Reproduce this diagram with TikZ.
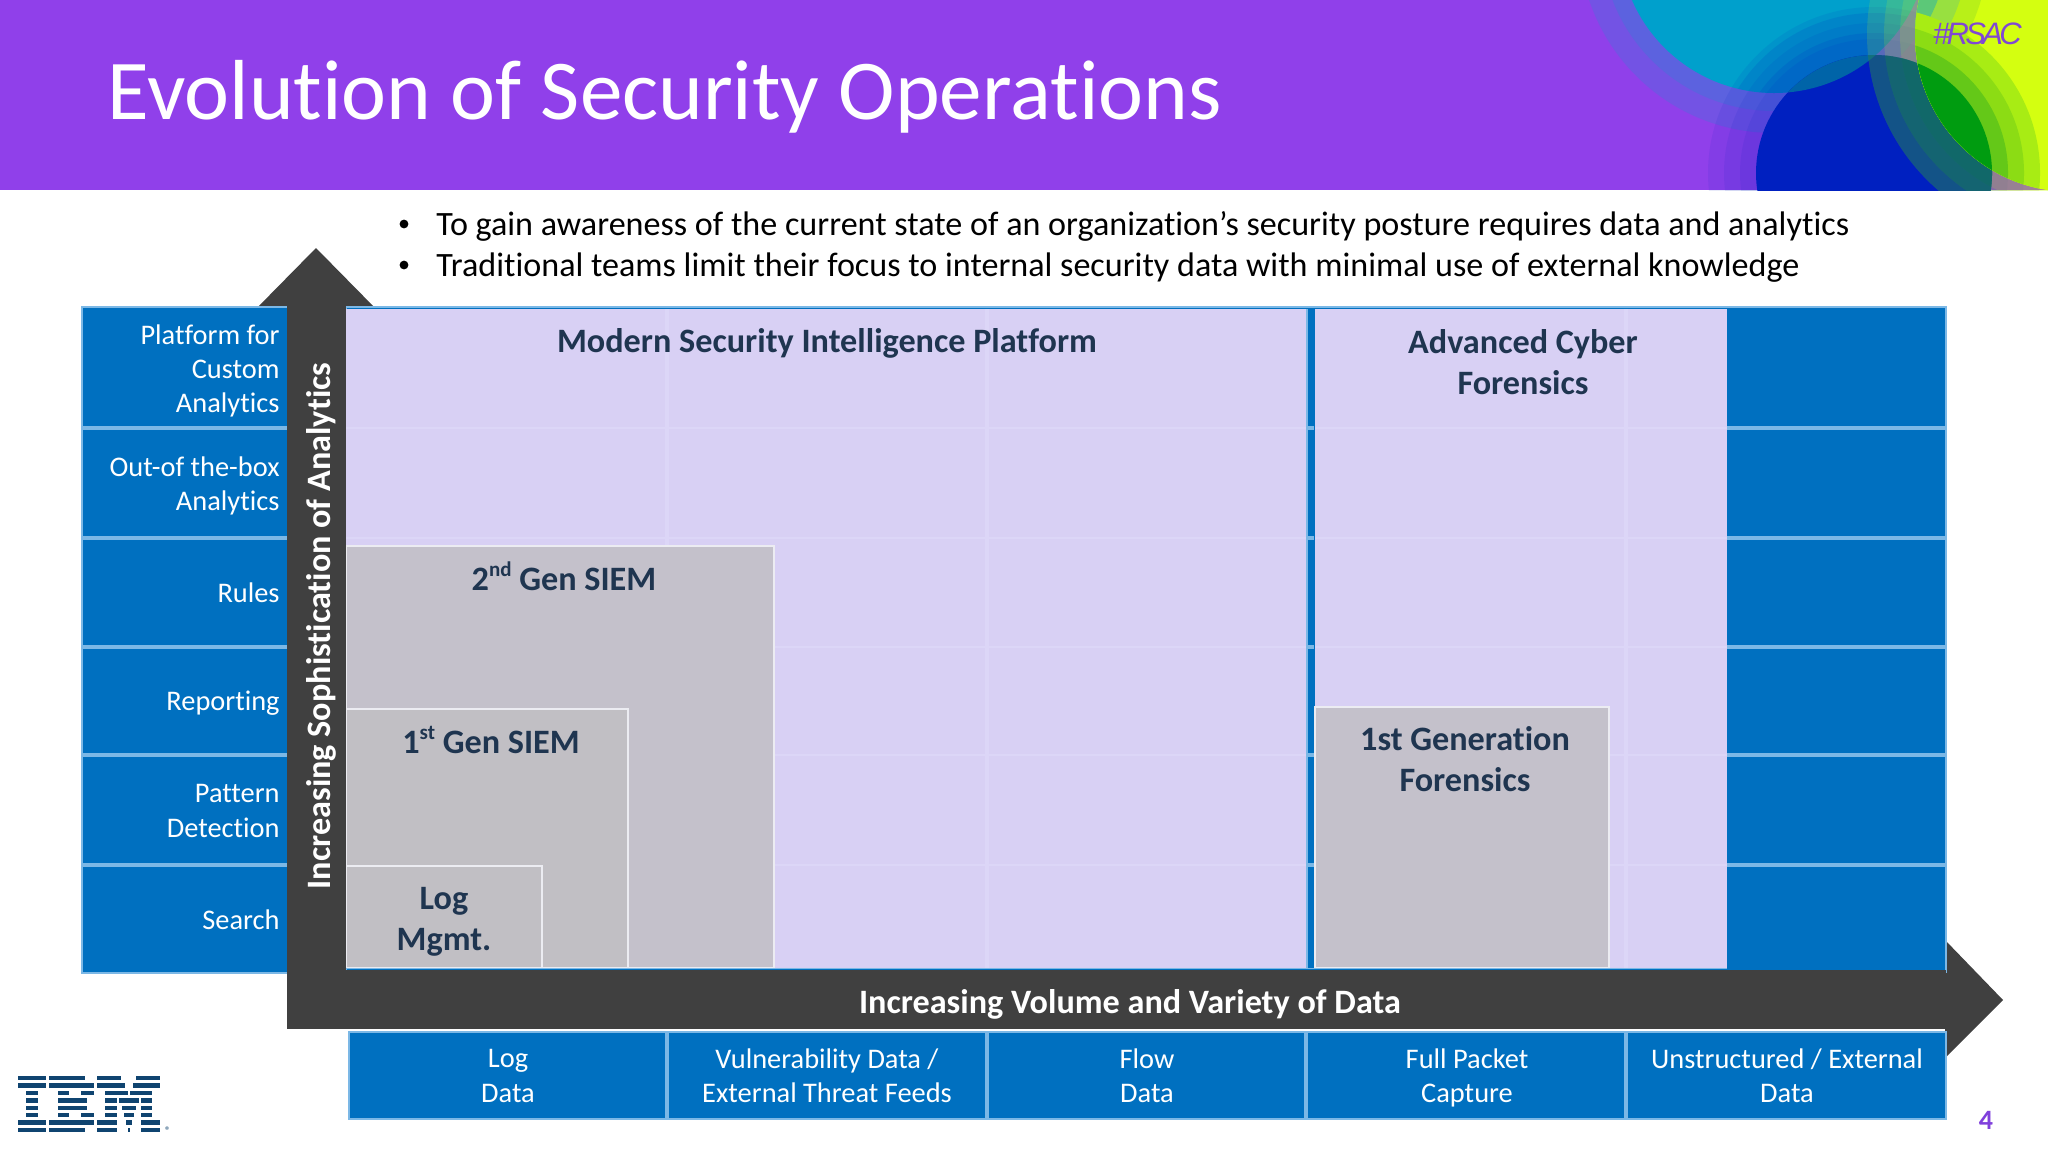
\documentclass[tikz,border=0pt]{standalone}
\usepackage{fontspec}
\setmainfont[Ligatures=NoCommon]{Carlito}
\newfontfamily\rsacfont[LetterSpace=-12]{Liberation Sans}
\definecolor{hdr}{HTML}{9040EA}
\definecolor{tealc}{HTML}{00A0CC}
\definecolor{bluec}{HTML}{0020C0}
\definecolor{limec}{HTML}{D4FF10}
\definecolor{lens}{HTML}{0064A8}
\definecolor{limeblue}{HTML}{0A6868}
\definecolor{ringa}{HTML}{A8EC14}
\definecolor{ringb}{HTML}{8CDC14}
\definecolor{ringc}{HTML}{64C818}
\definecolor{ringd}{HTML}{009C10}
\definecolor{tringa}{HTML}{B8F018}
\definecolor{tringb}{HTML}{98E040}
\definecolor{tringc}{HTML}{5CC878}
\definecolor{cellblue}{HTML}{0070C0}
\definecolor{edgeblue}{HTML}{7CB8E6}
\definecolor{arrowgrey}{HTML}{404040}
\definecolor{lav}{HTML}{D8D0F4}
\definecolor{lavline}{HTML}{DCD6F7}
\definecolor{gbox}{HTML}{C4C1CB}
\definecolor{gboxin}{HTML}{C1BFC4}
\definecolor{gline}{HTML}{ECECF2}
\definecolor{inktext}{HTML}{1F3550}
\definecolor{ibmblue}{HTML}{0F4470}
\definecolor{numpurple}{HTML}{8040DC}
\definecolor{tagpurple}{HTML}{8048D4}
\tikzset{
  x=0.5pt,y=-0.5pt,
  cell/.style={fill=cellblue},
  sep/.style={draw=edgeblue,line width=1.8pt},
  rowlab/.style={text=white,font=\fontsize{14.2}{17.2}\selectfont,align=right,anchor=east,inner sep=0pt},
  collab/.style={text=white,font=\fontsize{14.2}{17.2}\selectfont,align=center,inner sep=0pt},
  panel/.style={fill=lav},
  greybox/.style={fill=gbox,draw=gline,line width=0.7pt},
  greyboxin/.style={fill=gboxin,draw=gline,line width=0.7pt},
  boldlab/.style={text=inktext,font=\fontsize{17.1}{20.5}\selectfont\bfseries,align=center,inner sep=0pt},
  axislab/.style={text=white,font=\fontsize{17.1}{20}\selectfont\bfseries,inner sep=0pt},
  darrow/.style={fill=arrowgrey},
  bul/.style={text=black,font=\fontsize{17.05}{20}\selectfont,anchor=west,inner sep=0pt},
  ibm/.style={fill=ibmblue},
}
\newcommand{\ibmbar}[3]{\fill[ibm] (#1,{1076+(#3)*7.4}) rectangle (#2,{1076+(#3)*7.4+4.4});}
\newcommand{\smallsup}[1]{\raisebox{0.42em}{\fontsize{10.5}{11}\selectfont #1}}
\begin{document}
\begin{tikzpicture}
\useasboundingbox (0,0) rectangle (2048,1152);
\fill[white] (0,0) rectangle (2048,1152);
% header
\fill[hdr] (0,0) rectangle (2048,190);
\begin{scope}
\clip (0,0) rectangle (2048,190);
% teal
\foreach \r in {195,173}{\fill[tealc,fill opacity=.2] (1774,-62) circle (\r);}
\fill[tealc] (1774,-62) circle (155);
% blue
\foreach \r in {166,150,134}{\fill[bluec,fill opacity=.09] (1874,173) circle (\r);}
\begin{scope}
\clip (1774,-62) circle (155);
\foreach \r in {160,140}{\fill[bluec,fill opacity=.12] (1874,173) circle (\r);}
\end{scope}
\fill[bluec] (1874,173) circle (118);
\begin{scope}
\clip (1774,-62) circle (155);
\fill[lens] (1874,173) circle (118);
\end{scope}
% lime halos
\foreach \r in {205,188,172}{\fill[limec,fill opacity=.14] (2072,35) circle (\r);}
\begin{scope}
\clip (1874,173) circle (118);
\foreach \r in {205,188,172}{\fill[limeblue,fill opacity=.5] (2072,35) circle (\r);}
\end{scope}
% lime
\fill[limec] (2072,35) circle (157);
\begin{scope}
\clip (2072,35) circle (157);
\fill[tringa] (1774,-62) circle (216);
\fill[tringb] (1774,-62) circle (196);
\fill[tringc] (1774,-62) circle (175);
\fill[tealc] (1774,-62) circle (155);
\fill[ringa] (1874,173) circle (166);
\fill[ringb] (1874,173) circle (150);
\fill[ringc] (1874,173) circle (134);
\fill[ringd] (1874,173) circle (118);
\end{scope}
\end{scope}
\node[text=white,font=\fontsize{42.6}{44}\selectfont,anchor=west,inner sep=0pt] (title) at (107,96.5) {Evolution of Security Operations};
\node[text=tagpurple,font=\rsacfont\itshape\fontsize{15.5}{16}\selectfont,anchor=east,inner sep=0pt] (tag) at (2022,34) {\#RSAC};
% bullets
\fill[black] (404,224) circle (4.4);
\fill[black] (404,265) circle (4.4);
\node[bul] (b1) at (436,226.5) {To gain awareness of the current state of an organization’s security posture requires data and analytics};
\node[bul] (b2) at (436,267.5) {Traditional teams limit their focus to internal security data with minimal use of external knowledge};
% arrow heads
\fill[darrow] (316,248) -- (253,312) -- (379,312) -- cycle;
\fill[darrow] (2003,1000) -- (1945,940) -- (1945,1058) -- cycle;
% left and main blue blocks
\fill[cell,draw=edgeblue,line width=0.8pt] (82,307) rectangle (288,973);
\fill[cell,draw=edgeblue,line width=0.8pt] (346,307) rectangle (1946,972);
\foreach \yy in {428,538,647,755,865}{\draw[sep] (82,\yy) -- (287,\yy);\draw[sep] (1727,\yy) -- (1946,\yy);\draw[sep] (1307,\yy) -- (1314,\yy);}
% panels
\fill[panel] (346,309) rectangle (1306.5,968);
\fill[panel] (1315,309) rectangle (1727,968);
\draw[edgeblue,line width=0.6pt] (1307,309) -- (1307,968);
\foreach \yy in {428,538,647,755,865}{\draw[lavline,line width=1.2pt] (346,\yy) -- (1306,\yy);\draw[lavline,line width=1.2pt] (1315,\yy) -- (1727,\yy);}
\foreach \xx in {667,987,1626}{\draw[lavline,line width=1.6pt] (\xx,309) -- (\xx,968);}
% grey boxes
\draw[greybox] (346,546) rectangle (774,968);
\draw[greyboxin] (346,709) rectangle (628,968);
\draw[greyboxin] (346,866) rectangle (542,968);
\draw[greybox] (1315,707) rectangle (1609,968);
\draw[edgeblue,line width=0.5pt] (346,968.5) -- (1727,968.5);
% arrow shafts
\fill[darrow] (287,306) rectangle (346,1029);
\fill[darrow] (287,970) rectangle (1946,1029);
% bottom row
\fill[cell,draw=edgeblue,line width=1pt] (349,1032) rectangle (1946,1119);
\foreach \xx in {667,987,1306,1626}{\draw[sep] (\xx,1032) -- (\xx,1119);}
% row labels
\node[rowlab] (r1) at (280,371) {Platform for\\Custom\\Analytics};
\node[rowlab] (r2) at (280,486) {Out-of the-box\\Analytics};
\node[rowlab] (r3) at (280,593) {Rules};
\node[rowlab] (r4) at (280,703) {Reporting};
\node[rowlab] (r5) at (280,811) {Pattern\\Detection};
\node[rowlab] (r6) at (280,920) {Search};
% column labels
\node[collab] (c1) at (508,1076) {Log\\Data};
\node[collab] (c2) at (827,1076) {Vulnerability Data /\\External Threat Feeds};
\node[collab] (c3) at (1147,1076) {Flow\\Data};
\node[collab] (c4) at (1467,1078) {Full Packet\\Capture};
\node[collab] (c5) at (1787,1076) {Unstructured / External\\Data};
% axis labels
\node[axislab,rotate=90] (ya) at (321,626) {Increasing Sophistication of Analytics};
\node[axislab] (xa) at (1130,1004) {Increasing Volume and Variety of Data};
% panel labels
\node[boldlab] (p1) at (827,343) {Modern Security Intelligence Platform};
\node[boldlab] (p2) at (1523,362) {Advanced Cyber\\Forensics\hspace{0.2em}};
\node[boldlab] (p3) at (564,576) {2\smallsup{nd} Gen SIEM};
\node[boldlab] (p4) at (491,740) {1\smallsup{st} Gen SIEM};
\node[boldlab] (p5) at (444,922) {Log\\Mgmt.};
\node[boldlab] (p6) at (1465,759) {1st Generation\\Forensics\hspace{0.2em}};
% page number
\node[text=numpurple,font=\fontsize{14}{15}\selectfont\bfseries,inner sep=0pt] (pg) at (1986,1120) {4};
% IBM logo
\foreach \r in {0,1,6,7}{\ibmbar{18}{46}{\r}}
\foreach \r in {2,3,4,5}{\ibmbar{26}{38}{\r}}
\ibmbar{49}{85}{0}\ibmbar{49}{94}{1}
\ibmbar{58}{69}{2}\ibmbar{81}{94}{2}
\ibmbar{58}{87}{3}\ibmbar{58}{87}{4}
\ibmbar{58}{69}{5}\ibmbar{81}{94}{5}
\ibmbar{49}{94}{6}\ibmbar{49}{85}{7}
\ibmbar{97}{121}{0}\ibmbar{136}{160}{0}
\ibmbar{97}{125}{1}\ibmbar{133}{160}{1}
\ibmbar{105}{128}{2}\ibmbar{130}{152}{2}
\ibmbar{105}{117}{3}\ibmbar{119}{139}{3}\ibmbar{141}{152}{3}
\ibmbar{105}{117}{4}\ibmbar{122}{136}{4}\ibmbar{141}{152}{4}
\ibmbar{105}{117}{5}\ibmbar{124}{134}{5}\ibmbar{141}{152}{5}
\ibmbar{97}{117}{6}\ibmbar{126}{132}{6}\ibmbar{141}{160}{6}
\ibmbar{97}{117}{7}\ibmbar{128}{130}{7}\ibmbar{141}{160}{7}
\node[text=ibmblue,font=\fontsize{5.5}{6}\selectfont,inner sep=0pt] (reg) at (168,1131) {®};
\end{tikzpicture}
\end{document}
